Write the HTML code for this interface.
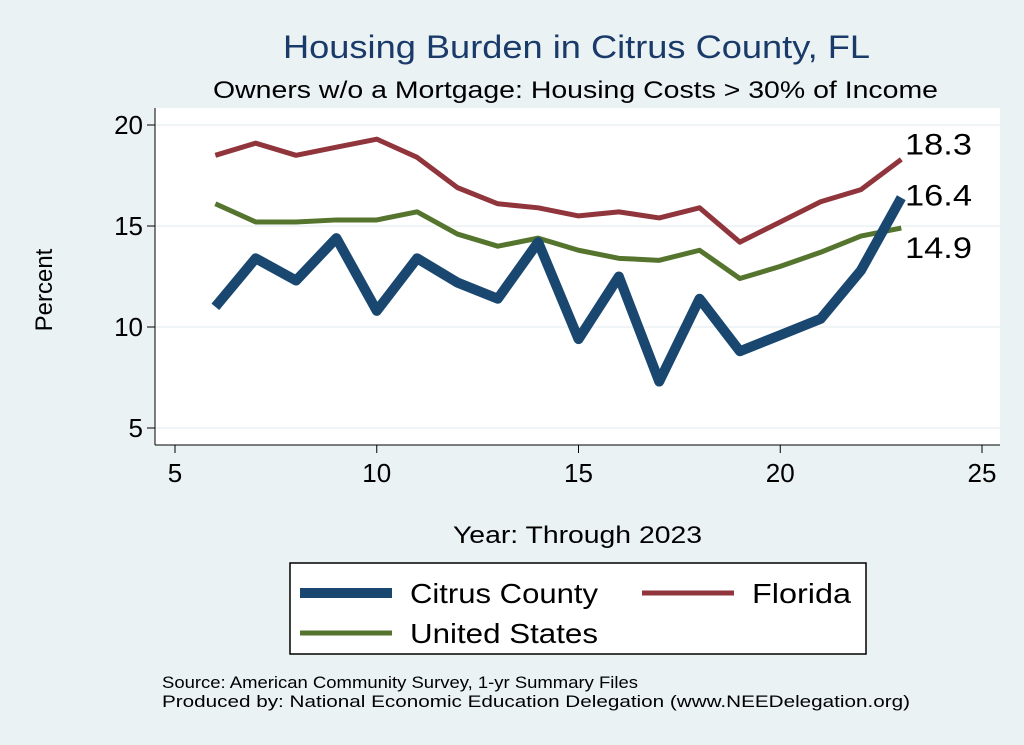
<!DOCTYPE html>
<html><head><meta charset="utf-8"><style>
body{margin:0;background:#eaf2f3;}
svg{display:block;font-family:"Liberation Sans",sans-serif;}
</style></head><body>
<svg width="1024" height="745">
<rect x="0" y="0" width="1024" height="745" fill="#eaf2f3"/>
<text x="283" y="58" font-size="32" fill="#1a3a6a" textLength="587" lengthAdjust="spacingAndGlyphs">Housing Burden in Citrus County, FL</text>
<text x="213" y="98" font-size="24" fill="#000" textLength="725" lengthAdjust="spacingAndGlyphs">Owners w/o a Mortgage: Housing Costs &gt; 30% of Income</text>
<rect x="155" y="108" width="845" height="337" fill="#fff"/>
<g id="grid"></g>
<g id="axes"></g>
<g id="series"></g>
<g id="labels"></g>
<text x="453" y="543" font-size="24" textLength="249" lengthAdjust="spacingAndGlyphs">Year: Through 2023</text>
<text x="52" y="290" text-anchor="middle" font-size="24" transform="rotate(-90 52 290)">Percent</text>
<g>
<rect x="290" y="563" width="576" height="91" fill="#fff" stroke="#000" stroke-width="1.5"/>
<line x1="300" y1="593" x2="392" y2="593" stroke="#1a476f" stroke-width="10"/>
<text x="410" y="603" font-size="28" textLength="188" lengthAdjust="spacingAndGlyphs">Citrus County</text>
<line x1="642" y1="593" x2="734" y2="593" stroke="#90353b" stroke-width="5"/>
<text x="752" y="603" font-size="28" textLength="99" lengthAdjust="spacingAndGlyphs">Florida</text>
<line x1="300" y1="633" x2="392" y2="633" stroke="#55752f" stroke-width="5"/>
<text x="410" y="643" font-size="28" textLength="188" lengthAdjust="spacingAndGlyphs">United States</text>
</g>
<text x="162" y="688" font-size="17" textLength="476" lengthAdjust="spacingAndGlyphs">Source: American Community Survey, 1-yr Summary Files</text>
<text x="162" y="707" font-size="17" textLength="748" lengthAdjust="spacingAndGlyphs">Produced by: National Economic Education Delegation (www.NEEDelegation.org)</text>
</svg>
<script>
const years=[6,7,8,9,10,11,12,13,14,15,16,17,18,19,20,21,22,23];
const citrus=[11.0,13.4,12.3,14.4,10.8,13.4,12.2,11.4,14.2,9.4,12.5,7.3,11.4,8.8,9.6,10.4,12.8,16.4];
const florida=[18.5,19.1,18.5,18.9,19.3,18.4,16.9,16.1,15.9,15.5,15.7,15.4,15.9,14.2,15.2,16.2,16.8,18.3];
const us=[16.1,15.2,15.2,15.3,15.3,15.7,14.6,14.0,14.4,13.8,13.4,13.3,13.8,12.4,13.0,13.7,14.5,14.9];
const xTicks=[5,10,15,20,25];
const yTicks=[5,10,15,20];
const NS='http://www.w3.org/2000/svg';
const X=v=>175+(v-5)*40.35;
const Y=v=>428-(v-5)*20.2;
function mk(t,a,p){const e=document.createElementNS(NS,t);for(const k in a)e.setAttribute(k,a[k]);p.appendChild(e);return e;}
const grid=document.getElementById('grid'),axes=document.getElementById('axes'),ser=document.getElementById('series'),lab=document.getElementById('labels');
mk('line',{x1:155,y1:108,x2:155,y2:445,stroke:'#000','stroke-width':1},axes);
mk('line',{x1:155,y1:445,x2:1000,y2:445,stroke:'#000','stroke-width':1},axes);
yTicks.forEach(v=>{
 const g=mk('line',{x1:155,x2:1000,y1:Y(v),y2:Y(v),stroke:'#eaf2f3','stroke-width':1.5},grid);
 
 
 const t=mk('line',{x1:147,x2:155,y1:Y(v),y2:Y(v),stroke:'#000'},axes);
 
 
 const tx=mk('text',{x:143,y:Y(v)+9,'text-anchor':'end','font-size':26},axes);
 tx.textContent=v;
 
 
});
xTicks.forEach(v=>{
 const t=mk('line',{x1:X(v),x2:X(v),y1:445,y2:453,stroke:'#000'},axes);
 
 
 const tx=mk('text',{x:X(v),y:482,'text-anchor':'middle','font-size':26},axes);
 tx.textContent=v;
 
 
});
function line(data,color,w,name){
 const p=mk('polyline',{points:data.map((v,i)=>X(years[i])+','+Y(v)).join(' '),fill:'none',stroke:color,'stroke-width':w,'stroke-linejoin':'round'},ser);
 
 
}
line(florida,'#90353b',5,'florida-line');
line(us,'#55752f',5,'us-line');
line(citrus,'#1a476f',10,'citrus-line');
const last=years.length-1;
[[florida[last],-5,'florida-end-label'],[citrus[last],8,'citrus-end-label'],[us[last],30,'us-end-label']].forEach(([v,dy,n])=>{
 const t=mk('text',{x:905,y:Y(v)+dy,'font-size':30,textLength:67,lengthAdjust:'spacingAndGlyphs'},lab);
 t.textContent=v.toFixed(1);
 
 
});
</script>
</body></html>
